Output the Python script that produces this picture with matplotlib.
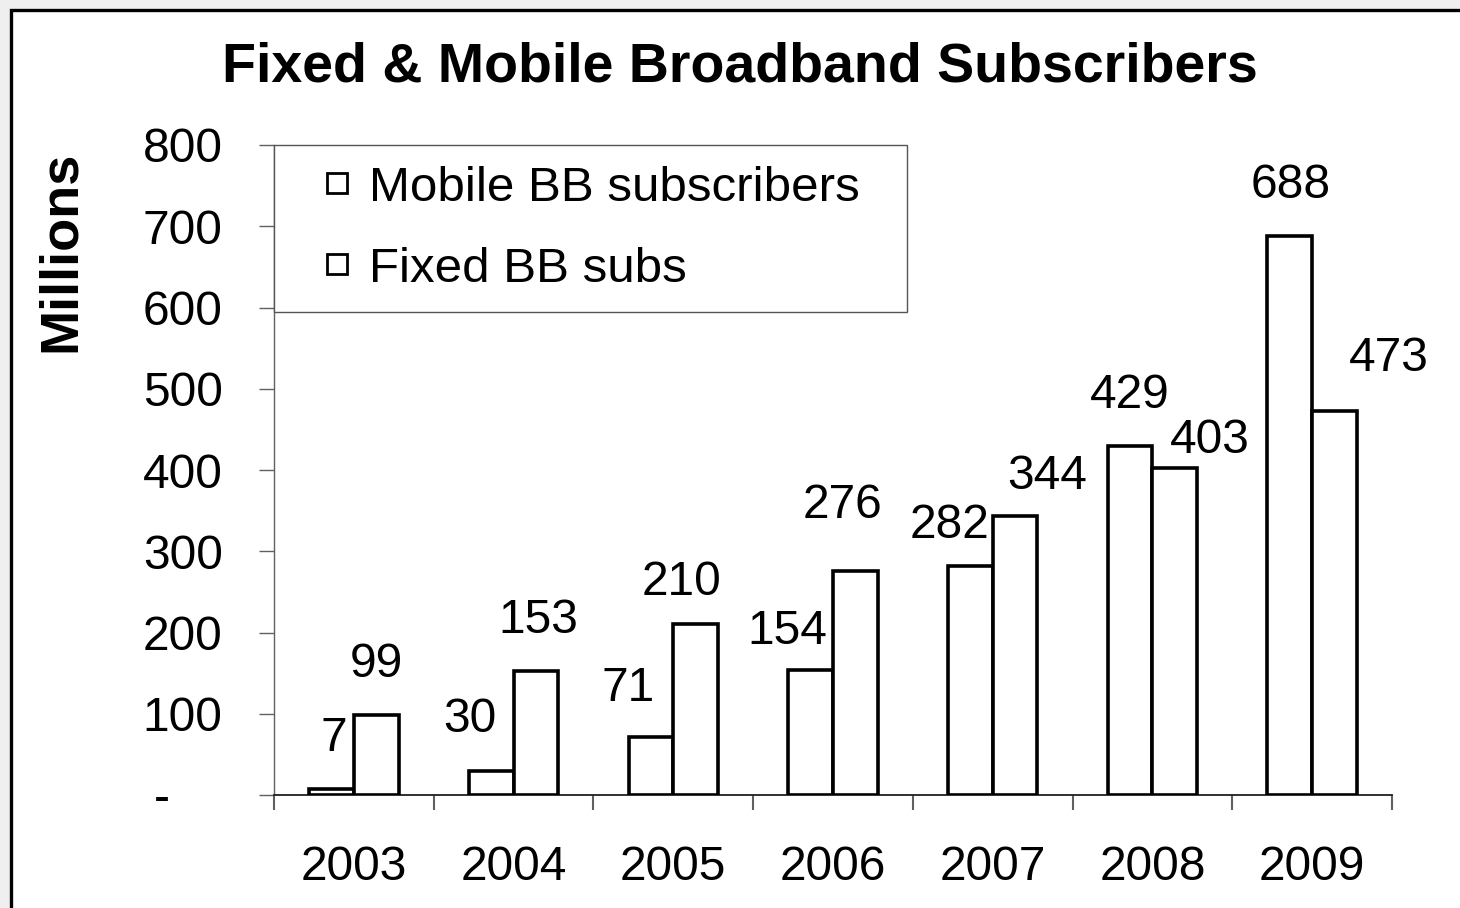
import numpy as np
import matplotlib
matplotlib.use('Agg')
import matplotlib.pyplot as plt
from matplotlib.lines import Line2D
from matplotlib.patches import Rectangle

plt.rcParams['font.family'] = ['Liberation Sans', 'DejaVu Sans']

years = ['2003', '2004', '2005', '2006', '2007', '2008', '2009']
mobile = [7, 30, 71, 154, 282, 429, 688]
fixed = [99, 153, 210, 276, 344, 403, 473]
yticks = [0, 100, 200, 300, 400, 500, 600, 700, 800]
ytick_labels = ['-    ', '100', '200', '300', '400', '500', '600', '700', '800']

# label nudges (pixels, relative to bar top) - labels were moved by hand in the original
mobile_off = [(2, 51), (-21, 51), (-23, 49), (-23, 38), (-21, 40), (0, 51), (1, 51)]
fixed_off = [(0, 50), (2, 50), (-14, 42), (-13, 65), (32, 39), (35, 27), (54, 52)]

W, H, DPI = 1460, 908, 100
fig = plt.figure(figsize=(W / DPI, H / DPI), dpi=DPI, facecolor='#efefef')
fig.add_artist(Rectangle((10.5 / W, -0.05), 1.1, 1.05 - 10.5 / H, transform=fig.transFigure,
                         facecolor='white', edgecolor='black', linewidth=2.4, zorder=-10))

ax = fig.add_axes([274 / W, 113 / H, 1118 / W, 650 / H])
ax.set_facecolor('none')

x = np.arange(len(years))
bw = 0.28
b1 = ax.bar(x - bw / 2, mobile, bw, facecolor='white', edgecolor='black', linewidth=2.6, zorder=3)
b2 = ax.bar(x + bw / 2, fixed, bw, facecolor='white', edgecolor='black', linewidth=2.6, zorder=3)

px = 72 / DPI
for bars, vals, offs in [(b1, mobile, mobile_off), (b2, fixed, fixed_off)]:
    for b, v, (dx, dy) in zip(bars, vals, offs):
        ax.annotate(str(v), (b.get_x() + b.get_width() / 2, v),
                    xytext=(dx * px, dy * px), textcoords='offset points',
                    ha='center', va='center', fontsize=34.5)

ax.set_xlim(-0.5, len(years) - 0.5)
ax.set_ylim(0, 800)
ax.set_yticks(yticks)
ax.set_yticklabels(ytick_labels)
ax.set_xticks(np.arange(len(years) + 1) - 0.5)
ax.set_xticklabels([])
ax.set_xticks(x, minor=True)
ax.set_xticklabels(years, minor=True)
ax.tick_params(axis='y', direction='out', length=11, width=1, color='#606060', pad=26, labelsize=34.5)
ax.tick_params(axis='x', which='major', direction='out', length=11, width=1.5, color='#606060')
ax.tick_params(axis='x', which='minor', length=0, pad=36, labelsize=34.5)

for s in ['top', 'right']:
    ax.spines[s].set_visible(False)
ax.spines['left'].set_color('#606060')
ax.spines['left'].set_linewidth(1)
ax.spines['bottom'].set_color('#202020')
ax.spines['bottom'].set_linewidth(1.3)

handles = [Line2D([], [], linestyle='none', marker='s', markersize=15,
                  markerfacecolor='white', markeredgecolor='black', markeredgewidth=2)
           for _ in range(2)]
leg = ax.legend(handles, ['Mobile BB subscribers  ', 'Fixed BB subs'], loc='upper left',
                bbox_to_anchor=(0, 1), borderaxespad=0, fancybox=False, framealpha=1,
                edgecolor='#555555', fontsize=35.5, borderpad=0.42, labelspacing=0.73,
                handlelength=1.7, handletextpad=-0.2)
leg.get_frame().set_linewidth(1)

fig.text(740 / W, 1 - 82 / H, 'Fixed & Mobile Broadband Subscribers', ha='center', va='baseline',
         fontsize=40, fontweight='bold')
fig.text(61 / W, 1 - 251 / H, 'Millions', rotation=90, ha='center', va='center',
         fontsize=39, fontweight='bold')

fig.savefig('out.png', dpi=DPI, facecolor=fig.get_facecolor())
